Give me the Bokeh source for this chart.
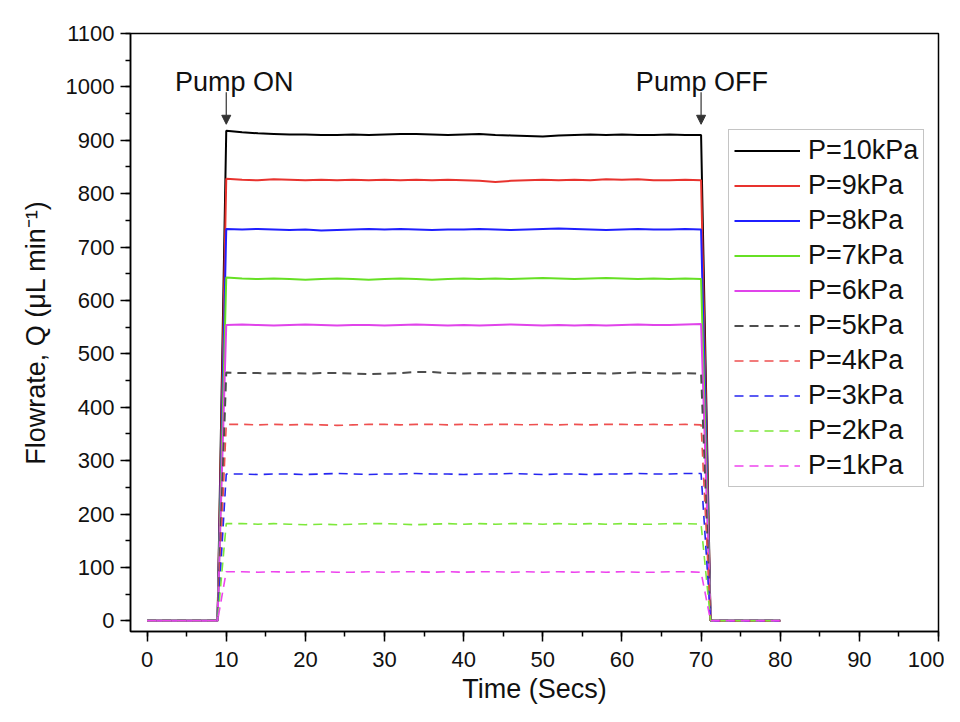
from bokeh.plotting import figure
from bokeh.models import (Range1d, SingleIntervalTicker, Legend, LegendItem,
                          Label, Arrow, NormalHead)
from bokeh.embed import file_html
from bokeh.resources import INLINE

# ---------------- data ----------------
time_s = [0, 8.9, 10, 12, 14, 16, 18, 20, 22, 24, 26, 28, 30, 32, 34, 36, 38,
          40, 42, 44, 46, 48, 50, 52, 54, 56, 58, 60, 62, 64, 66, 68, 70, 71.2, 80]

p10 = [0, 0, 918, 915, 913, 912, 911, 911, 910, 910, 911, 910,
       911, 912, 912, 911, 910, 911, 912, 910, 909, 908,
       907, 909, 910, 911, 910, 911, 910, 910, 911, 910, 910, 0, 0]
p9 = [0, 0, 828, 826, 825, 827, 826, 825, 826, 825, 826, 825,
      826, 825, 826, 825, 826, 825, 824, 822, 824, 825,
      826, 825, 826, 825, 827, 826, 827, 825, 825, 826, 825, 0, 0]
p8 = [0, 0, 734, 733, 734, 733, 732, 733, 731, 732, 733, 734,
      733, 734, 733, 732, 733, 733, 734, 733, 732, 733,
      734, 735, 734, 733, 732, 733, 734, 733, 733, 734, 733, 0, 0]
p7 = [0, 0, 643, 641, 640, 641, 640, 639, 640, 641, 640, 639,
      640, 641, 640, 639, 640, 641, 640, 641, 640, 641,
      642, 641, 640, 641, 642, 641, 640, 641, 640, 641, 640, 0, 0]
p6 = [0, 0, 554, 555, 554, 553, 554, 555, 554, 553, 554, 554,
      553, 554, 555, 554, 553, 554, 553, 554, 555, 554,
      553, 554, 553, 554, 553, 554, 555, 554, 554, 555, 556, 0, 0]
p5 = [0, 0, 465, 464, 464, 463, 464, 463, 464, 464, 463, 462,
      463, 464, 466, 466, 464, 463, 464, 463, 464, 463,
      464, 463, 464, 464, 463, 464, 465, 464, 463, 464, 463, 0, 0]
p4 = [0, 0, 368, 368, 367, 368, 367, 368, 367, 366, 367, 368,
      368, 367, 368, 368, 367, 368, 367, 368, 368, 367,
      368, 367, 368, 367, 368, 368, 367, 368, 367, 368, 367, 0, 0]
p3 = [0, 0, 275, 275, 274, 275, 275, 274, 275, 276, 275, 274,
      275, 275, 276, 275, 275, 274, 275, 275, 276, 275,
      274, 275, 275, 274, 275, 275, 276, 275, 275, 276, 276, 0, 0]
p2 = [0, 0, 182, 182, 181, 182, 181, 180, 181, 180, 181, 182,
      182, 181, 180, 181, 182, 181, 182, 181, 182, 182,
      181, 182, 181, 182, 181, 182, 181, 181, 182, 182, 181, 0, 0]
p1 = [0, 0, 92, 92, 91, 92, 91, 92, 92, 91, 91, 92,
      91, 92, 92, 91, 92, 91, 92, 92, 91, 92,
      91, 92, 91, 92, 91, 92, 91, 91, 92, 92, 91, 0, 0]

series_labels = ["P=10kPa", "P=9kPa", "P=8kPa", "P=7kPa", "P=6kPa",
                 "P=5kPa", "P=4kPa", "P=3kPa", "P=2kPa", "P=1kPa"]
series_values = [p10, p9, p8, p7, p6, p5, p4, p3, p2, p1]
series_colors = ["#000000", "#e8332e", "#1f1fff", "#66e024", "#e044ea",
                 "#4d4d4d", "#ee5050", "#2626f0", "#7de83a", "#ee44ee"]
series_dash = ["solid"] * 5 + ["9 6"] * 5
series_width = [2, 2, 2, 2, 2, 2, 1.6, 1.6, 1.6, 1.6]

FONT = "Liberation Sans"

p = figure(width=944, height=706, output_backend="svg", toolbar_location=None,
           x_range=Range1d(-2.1, 100), y_range=Range1d(-20, 1100),
           min_border_left=130, min_border_right=6, min_border_top=33,
           min_border_bottom=75)
p.grid.visible = False
p.outline_line_color = "black"
p.outline_line_width = 1.5
p.outline_line_alpha = 1.0
p.background_fill_color = "white"
p.border_fill_color = "white"

items = []
for lab, vals, col, dash, w in zip(series_labels, series_values, series_colors,
                                   series_dash, series_width):
    r = p.line(time_s, vals, line_color=col, line_width=w, line_dash=dash)
    items.append(LegendItem(label=lab, renderers=[r]))

for ax, interval in ((p.xaxis[0], 10), (p.yaxis[0], 100)):
    ax.ticker = SingleIntervalTicker(interval=interval, num_minor_ticks=2)
    ax.major_tick_out = 10
    ax.major_tick_in = 0
    ax.minor_tick_out = 5
    ax.minor_tick_in = 0
    ax.axis_line_width = 1.5
    ax.major_tick_line_width = 1.5
    ax.minor_tick_line_width = 1.5
    ax.major_label_text_font = FONT
    ax.major_label_text_font_size = "22px"
    ax.major_label_text_color = "#111111"
    ax.axis_label_text_font = FONT
    ax.axis_label_text_font_size = "27px"
    ax.axis_label_text_font_style = "normal"
    ax.axis_label_text_color = "#111111"

p.xaxis.axis_label = "Time (Secs)"
p.yaxis.axis_label = "Flowrate, Q (\u03bcL min\u207b\u00b9)"
p.xaxis.major_label_standoff = 10
p.yaxis.major_label_standoff = 6
p.xaxis.axis_label_standoff = 4
p.yaxis.axis_label_standoff = 12

legend = Legend(items=items, location=(598, 144), orientation="vertical")
legend.label_text_font = FONT
legend.label_text_font_size = "27px"
legend.label_text_color = "#111111"
legend.glyph_width = 66
legend.glyph_height = 31
legend.label_height = 31
legend.label_standoff = 8
legend.spacing = 4
legend.padding = 5
legend.margin = 0
legend.border_line_color = "#8a8a8a"
legend.border_line_width = 1.5
legend.background_fill_alpha = 1.0
p.add_layout(legend)

for txt, xx in (("Pump ON", 11.0), ("Pump OFF", 70.1)):
    p.add_layout(Label(x=xx, y=1010, text=txt, text_align="center",
                       text_baseline="alphabetic", text_font=FONT,
                       text_font_size="27px", text_color="#111111"))
for xx in (10, 70):
    p.add_layout(Arrow(x_start=xx, y_start=990, x_end=xx, y_end=930,
                       line_color="#333333", line_width=1.2,
                       end=NormalHead(size=9, fill_color="#333333",
                                      line_color="#333333")))

open("out.html", "w").write(file_html(p, INLINE))
